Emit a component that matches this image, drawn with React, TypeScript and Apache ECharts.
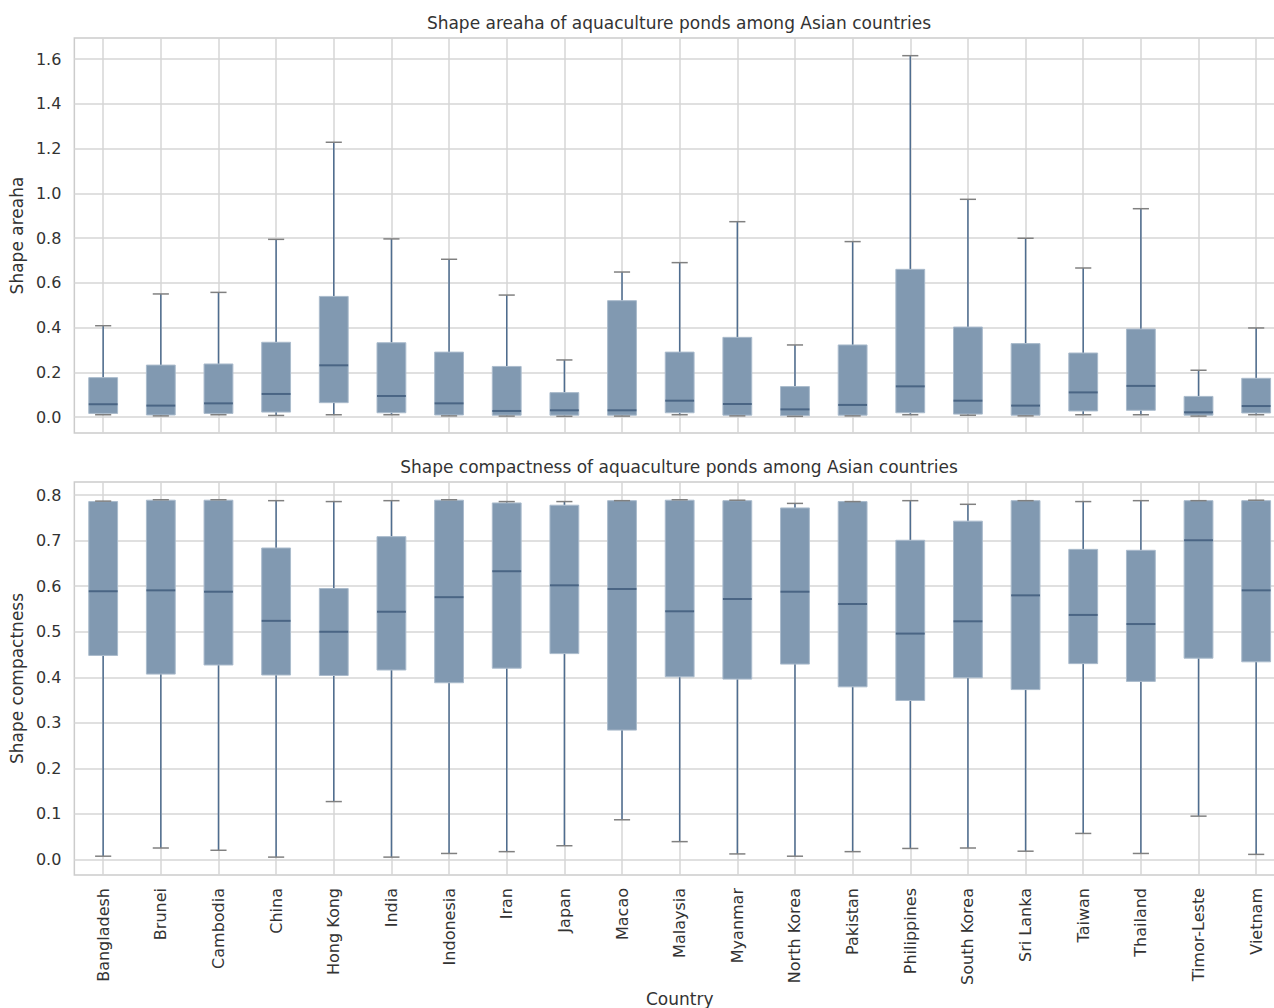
import React, { useEffect, useRef } from "react";
import * as echarts from "echarts";

const countries = [
  "Bangladesh", "Brunei", "Cambodia", "China", "Hong Kong", "India", "Indonesia",
  "Iran", "Japan", "Macao", "Malaysia", "Myanmar", "North Korea", "Pakistan",
  "Philippines", "South Korea", "Sri Lanka", "Taiwan", "Thailand", "Timor-Leste", "Vietnam",
];

// Shape areaha (top panel)
const areaMin = [0.010, 0.005, 0.010, 0.007, 0.010, 0.010, 0.005, 0.004, 0.003, 0.004, 0.010, 0.005, 0.003, 0.005, 0.010, 0.008, 0.005, 0.010, 0.010, 0.004, 0.010];
const areaQ1 = [0.016, 0.009, 0.016, 0.022, 0.064, 0.019, 0.009, 0.008, 0.008, 0.008, 0.019, 0.008, 0.006, 0.008, 0.019, 0.013, 0.008, 0.027, 0.030, 0.008, 0.018];
const areaMedian = [0.057, 0.051, 0.061, 0.103, 0.231, 0.094, 0.061, 0.027, 0.030, 0.030, 0.073, 0.058, 0.034, 0.054, 0.137, 0.073, 0.051, 0.110, 0.139, 0.021, 0.049];
const areaQ3 = [0.176, 0.232, 0.237, 0.334, 0.539, 0.332, 0.290, 0.226, 0.109, 0.520, 0.290, 0.356, 0.136, 0.322, 0.660, 0.402, 0.328, 0.286, 0.393, 0.092, 0.173];
const areaMax = [0.408, 0.550, 0.557, 0.794, 1.228, 0.796, 0.705, 0.545, 0.255, 0.648, 0.690, 0.873, 0.322, 0.784, 1.615, 0.973, 0.799, 0.666, 0.931, 0.209, 0.398];

// Shape compactness (bottom panel)
const compMin = [0.007, 0.025, 0.020, 0.005, 0.127, 0.005, 0.013, 0.017, 0.030, 0.087, 0.039, 0.012, 0.007, 0.017, 0.024, 0.025, 0.018, 0.057, 0.013, 0.095, 0.011];
const compQ1 = [0.448, 0.407, 0.427, 0.405, 0.404, 0.416, 0.388, 0.420, 0.452, 0.284, 0.401, 0.396, 0.429, 0.379, 0.349, 0.399, 0.373, 0.430, 0.391, 0.442, 0.434];
const compMedian = [0.589, 0.591, 0.588, 0.524, 0.500, 0.544, 0.576, 0.633, 0.602, 0.594, 0.545, 0.572, 0.588, 0.561, 0.496, 0.523, 0.580, 0.537, 0.517, 0.701, 0.591];
const compQ3 = [0.786, 0.789, 0.789, 0.684, 0.595, 0.709, 0.789, 0.783, 0.778, 0.788, 0.789, 0.788, 0.772, 0.786, 0.701, 0.743, 0.788, 0.681, 0.679, 0.788, 0.788];
const compMax = [0.787, 0.790, 0.790, 0.788, 0.786, 0.788, 0.790, 0.786, 0.786, 0.788, 0.790, 0.789, 0.782, 0.786, 0.788, 0.780, 0.788, 0.786, 0.788, 0.788, 0.789];

const areaTicks = [0, 0.2, 0.4, 0.6, 0.8, 1.0, 1.2, 1.4, 1.6];
const compTicks = [0, 0.1, 0.2, 0.3, 0.4, 0.5, 0.6, 0.7, 0.8];
const xPositions = countries.map((_, i) => i + 1);

const TEXT = "#333333";
const GRID = "#d6d6d6";
const FONT = "DejaVu Sans";
const CHART_W = 1300;

const buildData = (mn: number[], q1: number[], md: number[], q3: number[], mx: number[]) =>
  countries.map((_, i) => [i + 1, mn[i], q1[i], md[i], q3[i], mx[i]]);

const renderBox = (params: any, api: any) => {
  const x = api.value(0);
  const lo = api.coord([x, api.value(1)]);
  const q1 = api.coord([x, api.value(2)]);
  const md = api.coord([x, api.value(3)]);
  const q3 = api.coord([x, api.value(4)]);
  const hi = api.coord([x, api.value(5)]);
  const band = api.size([1, 0])[0];
  const bw = band * 0.5;
  const cw = band * 0.28;
  const cx = lo[0];
  const whisker = { stroke: "#4f6d8f", lineWidth: 1.5 };
  const cap = { stroke: "#808080", lineWidth: 1.5 };
  return {
    type: "group",
    children: [
      { type: "line", shape: { x1: cx, y1: hi[1], x2: cx, y2: q3[1] }, style: whisker },
      { type: "line", shape: { x1: cx, y1: q1[1], x2: cx, y2: lo[1] }, style: whisker },
      {
        type: "rect",
        shape: { x: cx - bw / 2, y: q3[1], width: bw, height: q1[1] - q3[1] },
        style: { fill: "#8199b1", stroke: "#aabbcc", lineWidth: 1 },
      },
      { type: "line", shape: { x1: cx - bw / 2, y1: md[1], x2: cx + bw / 2, y2: md[1] }, style: { stroke: "#4a6584", lineWidth: 2 } },
      { type: "line", shape: { x1: cx - cw / 2, y1: hi[1], x2: cx + cw / 2, y2: hi[1] }, style: cap },
      { type: "line", shape: { x1: cx - cw / 2, y1: lo[1], x2: cx + cw / 2, y2: lo[1] }, style: cap },
    ],
  };
};

export default function App() {
  const ref = useRef<HTMLDivElement>(null);
  useEffect(() => {
    const chart = echarts.init(ref.current!, null, { renderer: "svg" });
    const xAxisBase = (gridIndex: number, showLabels: boolean) => ({
      type: "value",
      gridIndex,
      min: 0.5,
      max: 21.5,
      axisLine: { show: false },
      axisTick: { show: false, customValues: xPositions },
      splitLine: { show: true, lineStyle: { color: GRID, width: 1.5 } },
      axisLabel: {
        show: showLabels,
        customValues: xPositions,
        rotate: 90,
        margin: 13,
        fontSize: 16,
        fontFamily: FONT,
        color: TEXT,
        formatter: (v: number) => countries[Math.round(v) - 1] ?? "",
      },
      name: showLabels ? "Country" : "",
      nameLocation: "middle",
      nameGap: 115,
      nameTextStyle: { fontSize: 17, fontFamily: FONT, color: TEXT },
    });
    const yAxisBase = (gridIndex: number, min: number, max: number, ticks: number[], name: string) => ({
      type: "value",
      gridIndex,
      min,
      max,
      axisLine: { show: false },
      axisTick: { show: false, customValues: ticks },
      splitLine: { show: true, lineStyle: { color: GRID, width: 1.5 } },
      axisLabel: {
        customValues: ticks,
        margin: 13,
        fontSize: 16,
        fontFamily: FONT,
        color: TEXT,
        formatter: (v: number) => v.toFixed(1),
      },
      name,
      nameLocation: "middle",
      nameGap: 47,
      nameTextStyle: { fontSize: 17, fontFamily: FONT, color: TEXT },
    });
    const right = CHART_W - 1285;
    chart.setOption({
      animation: false,
      backgroundColor: "#ffffff",
      title: [
        {
          text: "Shape areaha of aquaculture ponds among Asian countries",
          left: 679,
          top: 14,
          textAlign: "center",
          padding: 0,
          textStyle: { fontSize: 17, fontWeight: "normal", fontFamily: FONT, color: TEXT },
        },
        {
          text: "Shape compactness of aquaculture ponds among Asian countries",
          left: 679,
          top: 458,
          textAlign: "center",
          padding: 0,
          textStyle: { fontSize: 17, fontWeight: "normal", fontFamily: FONT, color: TEXT },
        },
      ],
      grid: [
        { left: 73, right, top: 38, height: 395, show: true, borderColor: "#cccccc", borderWidth: 1.5, backgroundColor: "transparent" },
        { left: 73, right, top: 482, height: 395, show: true, borderColor: "#cccccc", borderWidth: 1.5, backgroundColor: "transparent" },
      ],
      xAxis: [xAxisBase(0, false), xAxisBase(1, true)],
      yAxis: [
        yAxisBase(0, -0.0715, 1.694, areaTicks, "Shape areaha"),
        yAxisBase(1, -0.0343, 0.829, compTicks, "Shape compactness"),
      ],
      series: [
        {
          type: "custom",
          xAxisIndex: 0,
          yAxisIndex: 0,
          renderItem: renderBox,
          encode: { x: 0, y: [1, 2, 3, 4, 5] },
          data: buildData(areaMin, areaQ1, areaMedian, areaQ3, areaMax),
        },
        {
          type: "custom",
          xAxisIndex: 1,
          yAxisIndex: 1,
          renderItem: renderBox,
          encode: { x: 0, y: [1, 2, 3, 4, 5] },
          data: buildData(compMin, compQ1, compMedian, compQ3, compMax),
        },
      ],
    });
    return () => chart.dispose();
  }, []);
  return (
    <div style={{ position: "absolute", left: 0, top: 0, width: 1274, height: 1008, overflow: "hidden" }}>
      <div ref={ref} style={{ width: CHART_W, height: 1008 }} />
    </div>
  );
}
